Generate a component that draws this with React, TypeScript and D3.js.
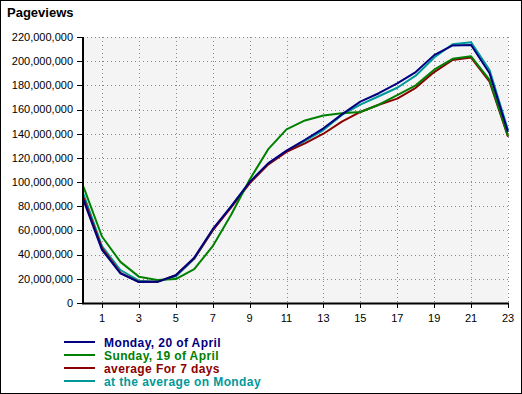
import * as d3 from 'd3'

// hourly pageviews, millions
const hours = d3.range(0, 24)
const monday = [85, 44, 24.5, 17.3, 17.5, 23, 37.5, 61, 80, 100, 115.5, 126, 135, 144.5, 156, 166.5, 173.5, 181.7, 191, 205, 213, 213.4, 190, 141.5]
const sunday = [96, 55, 34, 21.8, 19, 19.8, 28, 47, 73, 102, 127, 143.6, 151, 155, 157, 158, 164, 172, 180, 193, 202, 204, 184.5, 138]
const avg7 = [87, 45.5, 25, 17.5, 17.5, 23, 37, 60, 79, 99, 114.5, 125, 132, 140, 150, 158, 164, 169, 178, 191, 201, 203, 183, 137.5]
const avgMonday = [90, 47, 27.3, 18.5, 17.5, 22, 36.5, 60, 80, 100, 115, 125.5, 134, 143, 155.5, 164, 171, 178, 188, 203, 214, 215.6, 192.7, 143]

const yTicks = d3.range(0, 220000001, 20000000)
const xTicks = d3.range(1, 24, 2)

const SERIES = [
  { name: 'Monday, 20  of April', values: monday, color: '#000080' },
  { name: 'Sunday, 19 of April', values: sunday, color: '#008000' },
  { name: 'average For 7 days', values: avg7, color: '#8B0000' },
  { name: 'at the average on Monday', values: avgMonday, color: '#009999' },
]

const W = 522
const H = 394
const plot = { l: 83, r: 508, t: 37, b: 303 }

export default function App() {
  const x = d3.scaleLinear().domain([0, 23]).range([plot.l + 0.5, plot.r])
  const y = d3.scaleLinear().domain([0, 220000000]).range([plot.b, plot.t])
  const fmt = d3.format(',')

  const line = d3
    .line<number>()
    .x((_, i) => x(hours[i]))
    .y(d => y(d * 1e6))

  // draw order: teal, red, green, navy on top
  const drawOrder = [3, 2, 1, 0]

  return (
    <div style={{ position: 'fixed', left: 0, top: 0 }}>
      <svg width={W} height={H} style={{ display: 'block', fontFamily: 'Liberation Sans, Arial, sans-serif' }}>
        <rect x={0} y={0} width={W} height={H} fill="#fff" />
        <rect x={0.5} y={0.5} width={W - 1} height={H - 1} fill="none" stroke="#000" />

        <text x={7} y={17} fontSize={13} fontWeight="bold" fill="#000">Pageviews</text>

        {/* plot background */}
        <rect x={plot.l} y={plot.t} width={plot.r - plot.l} height={plot.b - plot.t} fill="#f4f4f4" />

        {/* grid */}
        {yTicks.filter(t => t > 0).map(t => (
          <line key={'gy' + t} x1={plot.l} x2={plot.r} y1={Math.round(y(t)) + 0.5} y2={Math.round(y(t)) + 0.5}
            stroke="#888" strokeDasharray="1,3" />
        ))}
        {[...xTicks, 23].map(t => (
          <line key={'gx' + t} x1={Math.round(x(t)) + 0.5} x2={Math.round(x(t)) + 0.5} y1={plot.t} y2={plot.b}
            stroke="#888" strokeDasharray="1,3" />
        ))}

        {/* series */}
        {drawOrder.map(i => (
          <path key={SERIES[i].name} d={line(SERIES[i].values) ?? ''} fill="none"
            stroke={SERIES[i].color} strokeWidth={2} strokeLinejoin="round" />
        ))}

        {/* axes */}
        <line x1={plot.l} x2={plot.l} y1={plot.t} y2={plot.b + 1} stroke="#000" strokeWidth={2} />
        <line x1={plot.l - 1} x2={plot.r + 1} y1={plot.b + 0.5} y2={plot.b + 0.5} stroke="#000" strokeWidth={2} />

        {yTicks.map(t => (
          <g key={'yt' + t}>
            <line x1={plot.l - 6} x2={plot.l} y1={Math.round(y(t)) + 0.5} y2={Math.round(y(t)) + 0.5} stroke="#000" />
            <text x={plot.l - 10} y={y(t)} dy="0.35em" textAnchor="end" fontSize={11} fill="#000">{fmt(t)}</text>
          </g>
        ))}
        {xTicks.map(t => (
          <g key={'xt' + t}>
            <line x1={Math.round(x(t)) + 0.5} x2={Math.round(x(t)) + 0.5} y1={plot.b + 1} y2={plot.b + 5} stroke="#000" />
            <text x={x(t)} y={322} textAnchor="middle" fontSize={11} fill="#000">{t}</text>
          </g>
        ))}

        {/* legend */}
        {SERIES.map((s, i) => (
          <g key={'lg' + s.name} transform={`translate(0,${342 + i * 13})`}>
            <line x1={64} x2={95} y1={0} y2={0} stroke={s.color} strokeWidth={2} />
            <text x={104} y={4.5} fontSize={12} fontWeight="bold" letterSpacing={0.4} fill={s.color}>{s.name}</text>
          </g>
        ))}
      </svg>
    </div>
  )
}
